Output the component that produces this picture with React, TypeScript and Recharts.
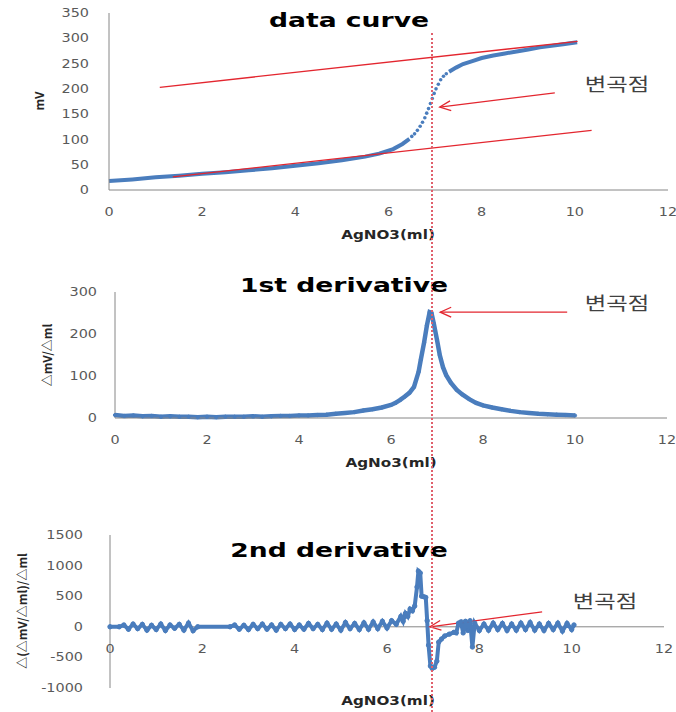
import { ComposedChart, Line, Scatter, XAxis, YAxis, ReferenceLine } from 'recharts'

type Row = [number, number]

// titration: AgNO3 added (ml) vs electrode potential (mV)
const curveLow: Row[] = [
  [0, 18], [0.5, 21], [1, 25], [1.5, 28], [2, 32], [2.5, 35], [3, 39], [3.5, 43],
  [4, 48], [4.5, 53], [5, 59], [5.5, 66], [5.8, 72], [6.1, 81], [6.3, 91], [6.45, 101],
]
const curveSteep: Row[] = [
  [6.5, 106], [6.56, 111], [6.62, 118], [6.68, 126], [6.73, 134], [6.78, 143], [6.82, 152],
  [6.86, 161], [6.9, 171], [6.94, 181], [6.98, 191], [7.02, 200], [7.07, 209], [7.12, 218],
  [7.18, 225], [7.24, 230],
]
const curveHigh: Row[] = [
  [7.3, 234], [7.45, 242], [7.6, 249], [7.8, 255], [8.0, 261], [8.25, 266], [8.5, 270],
  [8.75, 274], [9.0, 278], [9.25, 282], [9.5, 285], [9.75, 288], [10.05, 292],
]
const tangentUpper: Row[] = [[1.09, 203], [10.06, 294]]
const tangentLower: Row[] = [[1.37, 26], [10.36, 118]]
const arrowCurve: Row[] = [[7.1, 164], [9.57, 192]] // head first

const firstDeriv: Row[] = [
  [0, 7], [0.2, 5], [0.4, 6], [0.6, 4], [0.8, 5], [1.0, 3], [1.2, 4], [1.4, 3], [1.6, 3],
  [1.8, 2], [2.0, 3], [2.2, 2], [2.4, 3], [2.6, 3], [2.8, 3], [3.0, 4], [3.2, 3], [3.4, 4],
  [3.6, 5], [3.8, 5], [4.0, 6], [4.2, 6], [4.4, 7], [4.6, 8], [4.8, 10], [5.0, 12], [5.2, 14],
  [5.4, 18], [5.6, 21], [5.8, 25], [6.0, 31], [6.1, 36], [6.2, 43], [6.3, 51], [6.4, 60],
  [6.5, 74], [6.6, 110], [6.65, 140], [6.72, 180], [6.78, 220], [6.84, 252], [6.88, 250],
  [6.93, 225], [7.0, 186], [7.06, 150], [7.13, 121], [7.2, 102], [7.3, 84], [7.43, 67],
  [7.55, 56], [7.7, 45], [7.85, 36], [8.0, 30], [8.2, 25], [8.4, 21], [8.6, 17], [8.8, 14],
  [9.0, 12], [9.2, 10], [9.4, 9], [9.6, 8], [9.8, 7], [10.0, 6],
]
const arrowFirst: Row[] = [[7.07, 252], [9.83, 252]]

const secondDeriv: Row[] = [
  [0, 0], [0.2, 0], [0.3, 30], [0.4, -40], [0.5, 45], [0.6, -30], [0.7, 40], [0.8, -55],
  [0.9, 25], [1.0, -45], [1.1, 45], [1.2, -60], [1.3, 30], [1.4, -25], [1.5, 40], [1.6, -55],
  [1.7, 60], [1.8, -65], [1.9, 0], [2.6, 0], [2.7, 30], [2.8, -40], [2.9, 25], [3.0, -45],
  [3.1, 40], [3.2, -30], [3.3, 45], [3.4, -40], [3.5, 30], [3.6, -55], [3.7, 40], [3.8, -30],
  [3.9, 45], [4.0, -45], [4.1, 30], [4.2, -40], [4.3, 55], [4.4, -30], [4.5, 40], [4.6, -45],
  [4.7, 60], [4.8, -40], [4.9, 45], [5.0, -55], [5.1, 70], [5.2, -30], [5.3, 55], [5.4, -45],
  [5.5, 65], [5.6, -40], [5.7, 80], [5.8, -30], [5.9, 90], [6.0, -20], [6.1, 100], [6.2, 40],
  [6.3, 170], [6.35, 90], [6.4, 220], [6.45, 170], [6.5, 290], [6.55, 260], [6.6, 340],
  [6.65, 650], [6.68, 910], [6.72, 880], [6.75, 500], [6.8, 490], [6.84, 480], [6.87, 100],
  [6.9, -300], [6.94, -640], [6.98, -680], [7.03, -660], [7.08, -560], [7.12, -250],
  [7.18, -200], [7.25, -150], [7.35, -120], [7.45, -90], [7.5, -100], [7.55, 60], [7.6, 80],
  [7.65, -100], [7.7, 90], [7.75, -60], [7.8, 100], [7.85, -330], [7.9, 60], [8.0, -60],
  [8.1, 45], [8.2, -55], [8.3, 60], [8.4, -45], [8.5, 55], [8.6, -60], [8.7, 45], [8.8, -55],
  [8.9, 60], [9.0, -45], [9.1, 70], [9.2, -55], [9.3, 45], [9.4, -60], [9.5, 55], [9.6, -45],
  [9.7, 60], [9.8, -70], [9.9, 55], [10.0, -45], [10.05, 30],
]
const arrowSecond: Row[] = [[6.93, 0], [9.36, 245]]

const xTicks = [0, 2, 4, 6, 8, 10, 12]
const mvTicks = [0, 50, 100, 150, 200, 250, 300, 350]
const firstTicks = [0, 100, 200, 300]
const secondTicks = [-1000, -500, 0, 500, 1000, 1500]
const INFLECTION_ML = 6.92

const BLUE = '#4a7dbd'
const RED = '#e3262f'
const AXIS = '#868686'
const TICK = '#595959'

const pts = (rows: Row[]) => rows.map(([x, y]) => ({ x, y }))
const seg = (rows: Row[]) => rows.map(([x, y]) => ({ x, y }))

// chart boxes (page px)
const C1 = { top: 0, height: 250, yw: 109, right: 8, mTop: 13, xh: 60 }
const C2 = { top: 260, height: 220, yw: 115, right: 9, mTop: 32, xh: 62 }
const C3 = { top: 480, height: 232, yw: 110, right: 12, mTop: 55, xh: 24 }
const W = 676

function XTick(props: any) {
  const { x, y, payload, shift = 0 } = props
  return (
    <text
      transform={`translate(${x},${y + 22 + shift}) scale(1.2,1)`}
      textAnchor="middle"
      dominantBaseline="central"
      fontFamily="DejaVu Sans"
      fontSize={12}
      fill={TICK}
    >
      {payload.value}
    </text>
  )
}

function YTick(props: any) {
  const { x, y, payload, gap } = props
  return (
    <text
      transform={`translate(${x - gap},${y}) scale(1.2,1)`}
      textAnchor="end"
      dominantBaseline="central"
      fontFamily="DejaVu Sans"
      fontSize={12}
      fill={TICK}
    >
      {payload.value}
    </text>
  )
}

function ArrowShape(props: any) {
  const { x1, y1, x2, y2 } = props
  const ang = Math.atan2(y2 - y1, x2 - x1)
  const len = 12
  const p1 = `${x1 + len * Math.cos(ang + 0.42)},${y1 + len * Math.sin(ang + 0.42)}`
  const p2 = `${x1 + len * Math.cos(ang - 0.42)},${y1 + len * Math.sin(ang - 0.42)}`
  return (
    <g>
      <line x1={x1} y1={y1} x2={x2} y2={y2} stroke={RED} strokeWidth={1.3} />
      <polyline points={`${p1} ${x1},${y1} ${p2}`} fill="none" stroke={RED} strokeWidth={1.3} />
    </g>
  )
}

const dot = (p: any) => <circle cx={p.cx} cy={p.cy} r={1.8} fill={BLUE} />

const titleStyle = (cx: number, top: number): React.CSSProperties => ({
  position: 'absolute',
  left: cx,
  top,
  transform: 'translateX(-50%) scaleX(1.33)',
  fontFamily: 'DejaVu Sans',
  fontWeight: 700,
  fontSize: 20,
  lineHeight: '20px',
  whiteSpace: 'nowrap',
  color: '#000',
})

const axisTitleStyle = (cx: number, top: number): React.CSSProperties => ({
  position: 'absolute',
  left: cx,
  top,
  transform: 'translateX(-50%) scaleX(1.32)',
  fontFamily: 'DejaVu Sans',
  fontWeight: 700,
  fontSize: 11.5,
  lineHeight: '12px',
  whiteSpace: 'nowrap',
  color: '#262626',
})

const yTitleStyle = (cx: number, cy: number): React.CSSProperties => ({
  position: 'absolute',
  left: cx,
  top: cy,
  transform: 'translate(-50%,-50%) rotate(-90deg)',
  fontFamily: '"Noto Sans CJK KR"',
  fontWeight: 700,
  fontSize: 12,
  lineHeight: '12px',
  whiteSpace: 'nowrap',
  color: '#262626',
})

const noteStyle = (cx: number, cy: number): React.CSSProperties => ({
  position: 'absolute',
  left: cx,
  top: cy,
  transform: 'translate(-50%,-50%) scaleX(1.3)',
  fontFamily: '"Noto Sans CJK KR"',
  fontSize: 18,
  lineHeight: '18px',
  whiteSpace: 'nowrap',
  color: '#404040',
})

export default function App() {
  const plot1W = W - C1.right - C1.yw
  const plot3H = C3.height - C3.mTop - C3.xh
  const zeroShift = -((0 - secondTicks[0]) / (secondTicks[secondTicks.length - 1] - secondTicks[0])) * plot3H
  const inflectionLeft = C1.yw + (INFLECTION_ML / 12) * plot1W

  return (
    <div style={{ position: 'relative', width: W, height: 712, background: '#fff', overflow: 'hidden' }}>
      <style>{'body{margin:0}'}</style>

      <div style={{ position: 'absolute', top: C1.top, left: 0 }}>
        <ComposedChart width={W} height={C1.height} margin={{ top: C1.mTop, right: C1.right, bottom: 0, left: 0 }}>
          <XAxis
            type="number"
            dataKey="x"
            domain={[0, 12]}
            ticks={xTicks}
            height={C1.xh}
            tickSize={0}
            tickMargin={0}
            tickLine={false}
            axisLine={{ stroke: AXIS }}
            tick={(p: any) => <XTick {...p} />}
          />
          <YAxis
            type="number"
            domain={[0, 350]}
            ticks={mvTicks}
            width={C1.yw}
            tickSize={0}
            tickMargin={0}
            tickLine={false}
            axisLine={{ stroke: AXIS }}
            tick={(p: any) => <YTick {...p} gap={20} />}
          />
          <Line data={pts(curveLow)} dataKey="y" stroke={BLUE} strokeWidth={4} dot={false} isAnimationActive={false} />
          <Line data={pts(curveHigh)} dataKey="y" stroke={BLUE} strokeWidth={4} dot={false} isAnimationActive={false} />
          <Scatter data={pts(curveSteep)} dataKey="y" fill={BLUE} shape={dot} isAnimationActive={false} />
          <ReferenceLine segment={seg(tangentUpper)} stroke={RED} strokeWidth={1.3} />
          <ReferenceLine segment={seg(tangentLower)} stroke={RED} strokeWidth={1.3} />
          <ReferenceLine segment={seg(arrowCurve)} shape={ArrowShape} />
        </ComposedChart>
      </div>

      <div style={{ position: 'absolute', top: C2.top, left: 0 }}>
        <ComposedChart width={W} height={C2.height} margin={{ top: C2.mTop, right: C2.right, bottom: 0, left: 0 }}>
          <XAxis
            type="number"
            dataKey="x"
            domain={[0, 12]}
            ticks={xTicks}
            height={C2.xh}
            tickSize={0}
            tickMargin={0}
            tickLine={false}
            axisLine={{ stroke: AXIS }}
            tick={(p: any) => <XTick {...p} />}
          />
          <YAxis
            type="number"
            domain={[0, 300]}
            ticks={firstTicks}
            width={C2.yw}
            tickSize={0}
            tickMargin={0}
            tickLine={false}
            axisLine={{ stroke: AXIS }}
            tick={(p: any) => <YTick {...p} gap={18} />}
          />
          <Line
            data={pts(firstDeriv)}
            dataKey="y"
            stroke={BLUE}
            strokeWidth={4.5}
            dot={{ r: 1.6, fill: BLUE, stroke: BLUE, strokeWidth: 1 }}
            isAnimationActive={false}
          />
          <ReferenceLine segment={seg(arrowFirst)} shape={ArrowShape} />
        </ComposedChart>
      </div>

      <div style={{ position: 'absolute', top: C3.top, left: 0 }}>
        <ComposedChart width={W} height={C3.height} margin={{ top: C3.mTop, right: C3.right, bottom: 0, left: 0 }}>
          <XAxis
            type="number"
            dataKey="x"
            domain={[0, 12]}
            ticks={xTicks}
            height={C3.xh}
            tickSize={0}
            tickMargin={0}
            tickLine={false}
            axisLine={false}
            tick={(p: any) => <XTick {...p} shift={zeroShift} />}
          />
          <YAxis
            type="number"
            domain={[-1000, 1500]}
            ticks={secondTicks}
            width={C3.yw}
            tickSize={0}
            tickMargin={0}
            tickLine={false}
            axisLine={{ stroke: AXIS }}
            tick={(p: any) => <YTick {...p} gap={27} />}
          />
          <ReferenceLine y={0} stroke={AXIS} strokeWidth={1} />
          <Line
            data={pts(secondDeriv)}
            dataKey="y"
            stroke={BLUE}
            strokeWidth={4}
            dot={{ r: 2.2, fill: BLUE, stroke: BLUE, strokeWidth: 1 }}
            isAnimationActive={false}
          />
          <ReferenceLine segment={seg(arrowSecond)} shape={ArrowShape} />
        </ComposedChart>
      </div>

      {/* titles and axis titles */}
      <div style={titleStyle(349, 10)}>data curve</div>
      <div style={titleStyle(344, 275)}>1st derivative</div>
      <div style={titleStyle(339, 540)}>2nd derivative</div>

      <div style={axisTitleStyle(388, 229)}>AgNO3(ml)</div>
      <div style={axisTitleStyle(391, 457)}>AgNo3(ml)</div>
      <div style={axisTitleStyle(388, 695)}>AgNO3(ml)</div>

      <div style={yTitleStyle(39, 101)}>mV</div>
      <div style={yTitleStyle(47, 355)}>△mV/△ml</div>
      <div style={yTitleStyle(22, 611)}>△(△mV/△ml)/△ml</div>

      <div style={noteStyle(617, 83)}>변곡점</div>
      <div style={noteStyle(617, 302)}>변곡점</div>
      <div style={noteStyle(605, 600)}>변곡점</div>

      {/* inflection marker across all three panels */}
      <div
        style={{
          position: 'absolute',
          left: inflectionLeft,
          top: 33,
          height: 712 - 33,
          borderLeft: '2px dotted #e0606c',
        }}
      />
    </div>
  )
}
